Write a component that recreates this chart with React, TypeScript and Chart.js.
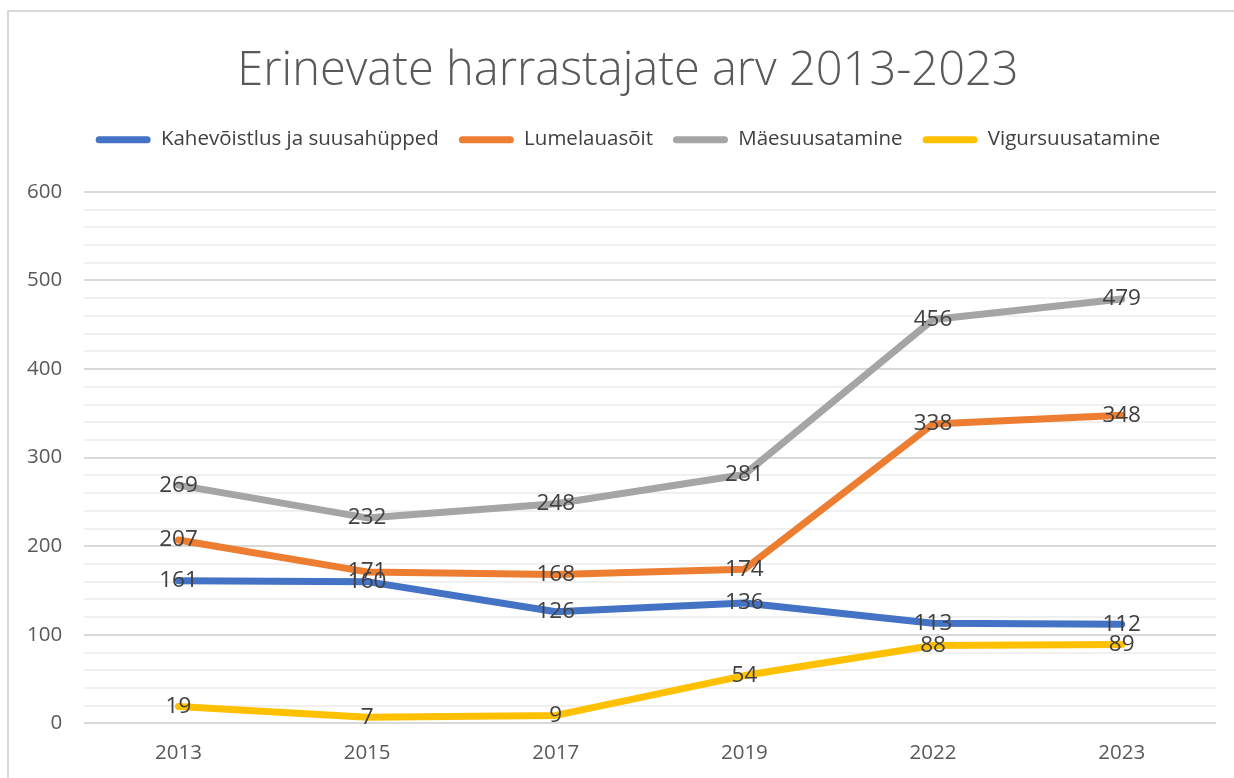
import React, { useEffect, useRef } from "react";
import { Chart, registerables } from "chart.js";

Chart.register(...registerables);

const TITLE = "Erinevate harrastajate arv 2013-2023";
const categories = ["2013", "2015", "2017", "2019", "2022", "2023"];
const seriesNames = ["Kahevõistlus ja suusahüpped", "Lumelauasõit", "Mäesuusatamine", "Vigursuusatamine"];
const kahevoistlus = [161, 160, 126, 136, 113, 112];
const lumelauasoit = [207, 171, 168, 174, 338, 348];
const maesuusatamine = [269, 232, 248, 281, 456, 479];
const vigursuusatamine = [19, 7, 9, 54, 88, 89];
const seriesColors = ["#4472C4", "#ED7D31", "#A5A5A5", "#FFC000"];
const yMin = 0;
const yMax = 600;
const yStep = 20;
const yLabelStep = 100;

const FONT = "'Open Sans', 'Noto Sans', sans-serif";

const dataLabels = {
  id: "dataLabels",
  afterDatasetsDraw(chart: any) {
    const ctx = chart.ctx;
    ctx.save();
    ctx.font = `22.5px ${FONT}`;
    ctx.fillStyle = "#404040";
    ctx.textAlign = "center";
    ctx.textBaseline = "middle";
    chart.data.datasets.forEach((ds: any, i: number) => {
      const meta = chart.getDatasetMeta(i);
      meta.data.forEach((pt: any, j: number) => {
        ctx.fillText(String(ds.data[j]), pt.x, pt.y);
      });
    });
    ctx.restore();
  },
};

const legendGap = {
  id: "legendGap",
  beforeInit(chart: any) {
    const fit = chart.legend.fit;
    chart.legend.fit = function () {
      fit.bind(chart.legend)();
      this.height += 32;
    };
  },
};

// centre title and legend over the whole chart frame (not just the padded area)
const centreHeader = {
  id: "centreHeader",
  afterLayout(chart: any) {
    if (chart.titleBlock) chart.titleBlock.left = 40;
    if (chart.legend) chart.legend.left = 40;
  },
};

export default function App() {
  const ref = useRef<HTMLCanvasElement | null>(null);
  useEffect(() => {
    if (!ref.current) return;
    const allData = [kahevoistlus, lumelauasoit, maesuusatamine, vigursuusatamine];
    const chart = new Chart(ref.current, {
      type: "line",
      data: {
        labels: categories,
        datasets: seriesNames.map((name, i) => ({
          label: name,
          data: allData[i],
          borderColor: seriesColors[i],
          backgroundColor: seriesColors[i],
          borderWidth: 7,
          borderCapStyle: "round",
          borderJoinStyle: "round",
          pointRadius: 0,
          pointHoverRadius: 0,
          tension: 0,
          fill: false,
        })),
      },
      options: {
        animation: false,
        responsive: false,
        maintainAspectRatio: false,
        layout: { padding: { top: 43, left: 5, right: 18, bottom: -4 } },
        plugins: {
          tooltip: { enabled: false },
          title: {
            display: true,
            text: TITLE,
            color: "#595959",
            font: { family: FONT, size: 47, weight: 300 as any },
            padding: { top: 0, bottom: 10 },
          },
          legend: {
            display: true,
            position: "top",
            labels: {
              color: "#404040",
              font: { family: FONT, size: 20.5 },
              boxWidth: 55,
              boxHeight: 7,
              useBorderRadius: true,
              borderRadius: 3.5,
              padding: 20,
              generateLabels: (chart: any) =>
                chart.data.datasets.map((ds: any, i: number) => ({
                  text: ds.label,
                  fillStyle: seriesColors[i],
                  strokeStyle: seriesColors[i],
                  lineWidth: 0,
                  fontColor: "#404040",
                  datasetIndex: i,
                  hidden: false,
                  borderRadius: 3.5,
                })),
            },
          },
        },
        scales: {
          x: {
            offset: true,
            grid: { display: false, drawTicks: false },
            border: { display: false },
            ticks: { color: "#595959", font: { family: FONT, size: 20.5 }, padding: 17 },
          },
          y: {
            min: yMin,
            max: yMax,
            grid: {
              drawTicks: false,
              color: (c: any) => (c.tick && c.tick.value % yLabelStep === 0 ? "#d9d9d9" : "#f0f0f0"),
              lineWidth: 2,
            },
            border: { display: false },
            ticks: {
              stepSize: yStep,
              autoSkip: false,
              color: "#595959",
              font: { family: FONT, size: 20.5 },
              padding: 22,
              callback: (v: any) => (Number(v) % yLabelStep === 0 ? String(v) : ""),
            },
          },
        },
      },
      plugins: [dataLabels, legendGap, centreHeader],
    });
    return () => chart.destroy();
  }, []);

  return (
    <div style={{ position: "fixed", left: 0, top: 0, width: 1234, height: 778, background: "#fff", overflow: "hidden" }}>
      <canvas ref={ref} width={1234} height={778} style={{ position: "absolute", left: 0, top: 0, width: 1234, height: 778 }} />
      <div
        style={{
          position: "absolute",
          left: 7,
          top: 10,
          width: 1300,
          height: 800,
          borderLeft: "2px solid #d9d9d9",
          borderTop: "2px solid #d9d9d9",
          pointerEvents: "none",
        }}
      />
    </div>
  );
}
